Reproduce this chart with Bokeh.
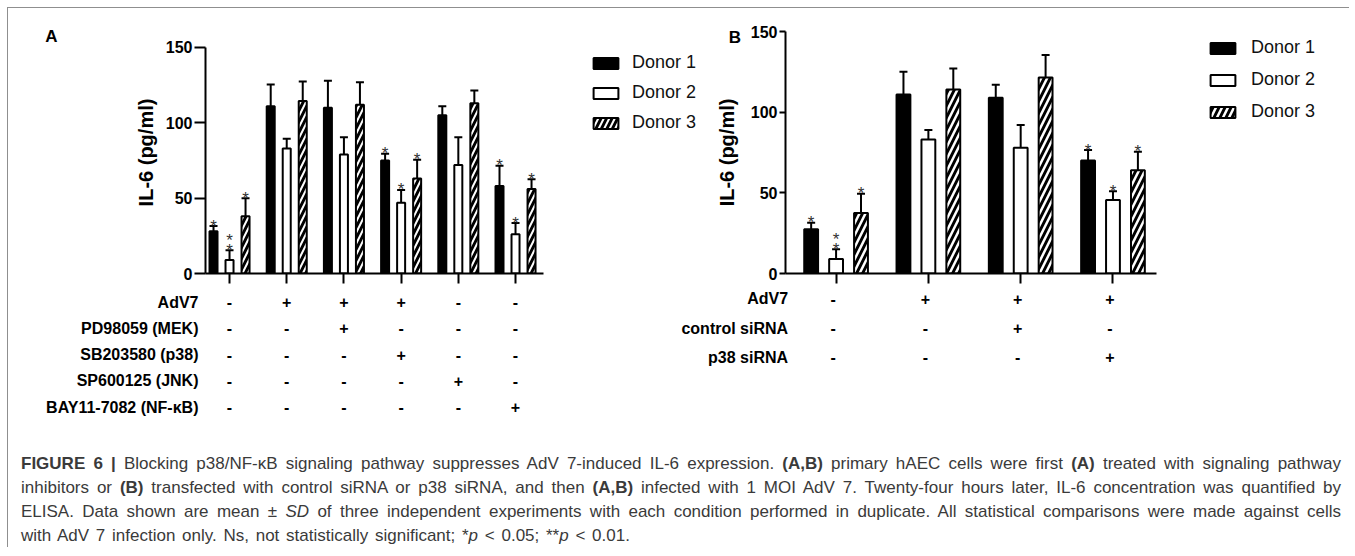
from bokeh.plotting import figure
from bokeh.models import (ColumnDataSource, Range1d, FixedTicker, Whisker, TeeHead,
                          Legend, LegendItem, Label, Div)
from bokeh.layouts import row, column
from bokeh.core.properties import value
from bokeh.embed import file_html
from bokeh.resources import INLINE

FONT = "Liberation Sans"

# ---------------- data ----------------
y_ticks = [0, 50, 100, 150]
donors = ["Donor 1", "Donor 2", "Donor 3"]

# Panel A
a_groups = [1, 2, 3, 4, 5, 6]
a_donor1 = [28, 111, 110, 75, 105, 58]
a_donor1_sd = [3.5, 14.5, 18, 4.5, 6, 13.5]
a_donor2 = [9, 83, 79, 47, 72, 26]
a_donor2_sd = [6.5, 6.5, 11.5, 8.5, 18.5, 7.5]
a_donor3 = [38, 114.5, 112, 63, 113, 56]
a_donor3_sd = [12, 13, 15, 12.5, 8.5, 6.5]
a_sig1 = ["*", "", "", "*", "", "*"]
a_sig2 = ["**", "", "", "*", "", "*"]
a_sig3 = ["*", "", "", "*", "", "*"]
a_rows = ["AdV7", "PD98059 (MEK)", "SB203580 (p38)", "SP600125 (JNK)", "BAY11-7082 (NF-\u03baB)"]
a_signs = [
    ["-", "+", "+", "+", "-", "-"],
    ["-", "-", "+", "-", "-", "-"],
    ["-", "-", "-", "+", "-", "-"],
    ["-", "-", "-", "-", "+", "-"],
    ["-", "-", "-", "-", "-", "+"],
]

# Panel B
b_groups = [1, 2, 3, 4]
b_donor1 = [27.5, 111, 109, 70]
b_donor1_sd = [4, 14, 8, 6.5]
b_donor2 = [9, 83, 78, 45.5]
b_donor2_sd = [6, 6, 14, 5.5]
b_donor3 = [37.5, 114, 121.5, 64]
b_donor3_sd = [12, 13, 14, 11.5]
b_sig1 = ["*", "", "", "*"]
b_sig2 = ["**", "", "", "*"]
b_sig3 = ["*", "", "", "*"]
b_rows = ["AdV7", "control siRNA", "p38 siRNA"]
b_signs = [
    ["-", "+", "+", "+"],
    ["-", "-", "+", "-"],
    ["-", "-", "-", "+"],
]

TOP_H = 280      # height of the chart strip
TAB_H = 156      # height of the treatment table strip
BT = 23          # common top border
FH = 242         # common frame height


def make_panel(letter, groups, means, sds, sigs, g):
    x1 = g["x0"] + g["fw"] / g["unit"]
    p = figure(frame_width=g["fw"], frame_height=FH,
               x_range=Range1d(g["x0"], x1), y_range=Range1d(0, g["ymax"]),
               output_backend="svg", toolbar_location=None,
               min_border_left=g["bl"], min_border_right=0,
               min_border_top=BT, min_border_bottom=TOP_H - BT - FH)
    p.outline_line_color = None
    p.grid.visible = False
    p.background_fill_color = "white"
    p.border_fill_color = "white"

    # axes
    p.yaxis.ticker = FixedTicker(ticks=y_ticks)
    p.yaxis.bounds = (y_ticks[0], y_ticks[-1])
    p.xaxis.ticker = FixedTicker(ticks=groups)
    p.xaxis.bounds = (g["x0"], g["xaxis_end"])
    for ax in (p.xaxis, p.yaxis):
        ax.axis_line_width = 2
        ax.axis_line_color = "black"
        ax.major_tick_line_width = 2
        ax.major_tick_line_color = "black"
        ax.major_tick_in = 0
        ax.minor_tick_line_color = None
    p.xaxis.major_tick_out = 10
    p.xaxis.major_label_overrides = {gr: "" for gr in groups}
    p.xaxis.major_label_text_font_size = "0px"
    p.yaxis.major_tick_out = g["tick_out"]
    p.yaxis.major_label_standoff = g["lab_standoff"]
    p.yaxis.major_label_text_font = FONT
    p.yaxis.major_label_text_font_style = "bold"
    p.yaxis.major_label_text_font_size = "16px"
    p.yaxis.major_label_text_color = "black"
    p.yaxis.axis_label = "IL-6 (pg/ml)"
    p.yaxis.axis_label_text_font = FONT
    p.yaxis.axis_label_text_font_style = "bold"
    p.yaxis.axis_label_text_font_size = "20px"
    p.yaxis.axis_label_text_color = "black"
    p.yaxis.axis_label_standoff = g["ax_standoff"]

    styles = [
        dict(fill_color="black", line_color="black"),
        dict(fill_color="white", line_color="black"),
        dict(fill_color="black", line_color="black", hatch_pattern="/",
             hatch_color="white", hatch_weight=g["hw"], hatch_scale=g["hs"]),
    ]
    items = []
    for k in range(3):
        xs = [x + g["offs"][k] for x in groups]
        err = [m + s for m, s in zip(means[k], sds[k])]
        src = ColumnDataSource(dict(x=xs, top=means[k], err=err))
        r = p.vbar(x="x", top="top", bottom=0, width=g["bw"], line_width=2,
                   source=src, **styles[k])
        p.add_layout(Whisker(base="x", upper="err", lower="top", source=src,
                             line_width=2, line_color="black",
                             upper_head=TeeHead(size=8, line_width=2, line_color="black"),
                             lower_head=None))
        # significance stars
        one = [i for i, s in enumerate(sigs[k]) if s]
        two = [i for i, s in enumerate(sigs[k]) if s == "**"]
        p.text(x=[xs[i] for i in one], y=[err[i] for i in one], text=["*"] * len(one),
               text_align="center", text_baseline="alphabetic", text_font=value(FONT),
               text_font_size="17px", text_color="#333333")
        if two:
            p.text(x=[xs[i] for i in two], y=[err[i] for i in two], text=["*"] * len(two),
                   text_align="center", text_baseline="alphabetic", text_font=value(FONT),
                   text_font_size="17px", text_color="#333333", y_offset=-10)
        items.append(LegendItem(label=donors[k], renderers=[r]))

    legend = Legend(items=items, location=g["leg_loc"], orientation="vertical",
                    glyph_width=31, glyph_height=14, label_standoff=g["leg_standoff"],
                    label_text_font=FONT, label_text_font_size="18px",
                    label_text_color="#111111", label_height=21,
                    spacing=g["leg_spacing"], padding=0, margin=0,
                    border_line_color=None, background_fill_alpha=0)
    p.add_layout(legend)

    p.add_layout(Label(x=g["let_x"], y=g["let_y"], text=letter,
                       text_align="center", text_baseline="middle",
                       text_font=FONT, text_font_style="bold",
                       text_font_size="17px", text_color="black"), "left")
    return p


def make_table(rows, signs, groups, g):
    # same horizontal scale as the chart above it
    frame_left = g["fig_left"] + g["bl"]
    tx0 = g["x0"] - (frame_left - g["tab_left"]) / g["unit"]
    tx1 = tx0 + g["tab_w"] / g["unit"]
    ytop = -g["row_off"] / g["row_dy"]
    ybot = ytop + TAB_H / g["row_dy"]
    t = figure(width=g["tab_w"], height=TAB_H, x_range=Range1d(tx0, tx1),
               y_range=Range1d(ybot, ytop), x_axis_type=None, y_axis_type=None,
               output_backend="svg", toolbar_location=None,
               min_border=0, min_border_left=0, min_border_right=0,
               min_border_top=0, min_border_bottom=0)
    t.outline_line_color = None
    t.grid.visible = False
    t.background_fill_color = "white"
    t.border_fill_color = "white"
    idx = list(range(len(rows)))
    t.text(x=[g["row_x"]] * len(rows), y=idx, text=rows, text_align="right",
           text_baseline="middle", text_font=value(FONT), text_font_style="bold",
           text_font_size="16px", text_color="black")
    sx, sy, st = [], [], []
    for i, line in enumerate(signs):
        for j, s in enumerate(line):
            sx.append(groups[j])
            sy.append(i)
            st.append(s)
    t.text(x=sx, y=sy, text=st, text_align="center", text_baseline="middle",
           text_font=value(FONT), text_font_style="bold",
           text_font_size="16px", text_color="black")
    return t


geomA = dict(fig_left=0, fw=495, bl=197, unit=57.2, ymax=242 / 1.5067,
             x0=0.58, xaxis_end=6.49, offs=(-0.28, 0.0, 0.28), bw=0.14,
             tick_out=11, lab_standoff=2, ax_standoff=6,
             hw=2, hs=11, leg_loc=(385, 140), leg_standoff=11, leg_spacing=9,
             tab_left=0, tab_w=652,
             row_off=13.7, row_dy=26.25, row_x=0.4576, let_x=-2.113, let_y=157.3)
geomB = dict(fig_left=692, fw=565, bl=82, unit=92.3, ymax=150,
             x0=0.452, xaxis_end=4.472, offs=(-0.27, 0.0, 0.27), bw=0.15,
             tick_out=6, lab_standoff=2, ax_standoff=10,
             hw=2.5, hs=12, leg_loc=(422, 151), leg_standoff=13, leg_spacing=11,
             tab_left=652, tab_w=687,
             row_off=10.3, row_dy=29.2, row_x=0.5127, let_x=-0.097, let_y=146.3)

pA = make_panel("A", a_groups, [a_donor1, a_donor2, a_donor3],
                [a_donor1_sd, a_donor2_sd, a_donor3_sd],
                [a_sig1, a_sig2, a_sig3], geomA)
pB = make_panel("B", b_groups, [b_donor1, b_donor2, b_donor3],
                [b_donor1_sd, b_donor2_sd, b_donor3_sd],
                [b_sig1, b_sig2, b_sig3], geomB)
tA = make_table(a_rows, a_signs, a_groups, geomA)
tB = make_table(b_rows, b_signs, b_groups, geomB)

caption_lines = [
    "<b>FIGURE 6 |</b> Blocking p38/NF-\u03baB signaling pathway suppresses AdV 7-induced IL-6 expression. "
    "<b>(A,B)</b> primary hAEC cells were first <b>(A)</b> treated with signaling pathway",
    "inhibitors or <b>(B)</b> transfected with control siRNA or p38 siRNA, and then <b>(A,B)</b> "
    "infected with 1 MOI AdV 7. Twenty-four hours later, IL-6 concentration was quantified by",
    "ELISA. Data shown are mean \u00b1 <i>SD</i> of three independent experiments with each condition "
    "performed in duplicate. All statistical comparisons were made against cells",
    "with AdV 7 infection only. Ns, not statistically significant; *<i>p</i> &lt; 0.05; **<i>p</i> &lt; 0.01.",
]
total_w = 692 + 647
html = ('<div style="box-sizing:border-box;width:%dpx;padding:8px 6px 0 13px;'
        "font-family:'Liberation Sans';font-size:17px;line-height:24px;color:#3a3a3a;\">" % total_w)
for i, ln in enumerate(caption_lines):
    if i == len(caption_lines) - 1:
        html += '<div style="text-align:left;word-spacing:2px;white-space:nowrap;">%s</div>' % ln
    else:
        html += ('<div style="text-align:justify;text-align-last:justify;white-space:nowrap;">%s</div>' % ln)
html += "</div>"
cap = Div(text=html, width=total_w, height=104, margin=0)

layout = column(row(pA, pB, spacing=0), row(tA, tB, spacing=0), cap, spacing=0,
                margin=(8, 0, 0, 8),
                styles={"box-shadow": "-1px -1px 0 0 #8f8f8f"})

open("out.html", "w").write(file_html(layout, INLINE))
